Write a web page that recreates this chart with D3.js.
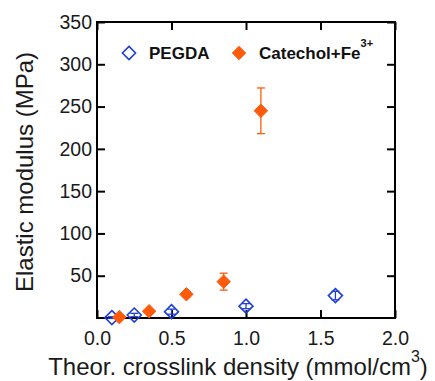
<!DOCTYPE html>
<html>
<head>
<meta charset="utf-8">
<script src="https://cdn.jsdelivr.net/npm/d3@7"></script>
<style>
  html, body { margin: 0; padding: 0; background: #fff; }
  svg { display: block; font-family: Arial, "Liberation Sans", sans-serif; }
</style>
</head>
<body>
<div id="chart"></div>
<script>
// ─── Data ───────────────────────────────────────────────────
const pegdaX = [0.1, 0.25, 0.5, 1.0, 1.6];
const pegdaY = [0.5, 3.5, 7.5, 14, 26.5];
const pegdaErr = [1, 2, 3, 3, 5];

const catX = [0.15, 0.35, 0.6, 0.85, 1.1];
const catY = [1, 8, 28, 43, 245];
const catErr = [1, 2, 3, 10, 27];

const xTicks = [0.0, 0.5, 1.0, 1.5, 2.0];
const yTicks = [50, 100, 150, 200, 250, 300, 350];

// ─── Layout ─────────────────────────────────────────────────
const W = 435, H = 381;
const margin = { top: 22, right: 40, bottom: 63, left: 97 };
const innerW = W - margin.left - margin.right;
const innerH = H - margin.top - margin.bottom;

const blue = "#1f3fd6";
const orange = "#ff5a0a";

const svg = d3.select("#chart").append("svg")
  .attr("width", W).attr("height", H);

const g = svg.append("g")
  .attr("transform", `translate(${margin.left},${margin.top})`);

const x = d3.scaleLinear().domain([0, 2]).range([0, innerW]);
const y = d3.scaleLinear().domain([0, 350]).range([innerH, 0]);

// Axes (ticks inward)
const tickLen = 8;
const fmtX = d3.format(".1f");

const xAxis = g.append("g").attr("transform", `translate(0,${innerH})`)
  .call(d3.axisBottom(x).tickValues(xTicks).tickSize(-tickLen).tickPadding(13).tickFormat(fmtX));
const yAxis = g.append("g")
  .call(d3.axisLeft(y).tickValues(yTicks).tickSize(-tickLen).tickPadding(5));
const xTop = g.append("g")
  .call(d3.axisTop(x).tickValues(xTicks).tickSize(-tickLen).tickFormat(""));
const yRight = g.append("g").attr("transform", `translate(${innerW},0)`)
  .call(d3.axisRight(y).tickValues(yTicks).tickSize(-tickLen).tickFormat(""));

[xAxis, yAxis, xTop, yRight].forEach(a => {
  a.select(".domain").remove();
  a.selectAll(".tick line").attr("stroke", "#000").attr("stroke-width", 2);
  a.selectAll(".tick text").attr("font-size", 19.5).attr("fill", "#1a1a1a")
    .attr("font-family", "Arial, 'Liberation Sans', sans-serif");
});

// Frame
g.append("rect")
  .attr("width", innerW).attr("height", innerH)
  .attr("fill", "none").attr("stroke", "#000").attr("stroke-width", 2);

// Error bars + markers
const diamond = d3.symbol().type(d3.symbolDiamond2);

function drawSeries(xs, ys, errs, color, filled, size) {
  const data = xs.map((v, i) => ({ x: v, y: ys[i], e: errs[i] }));
  const eb = g.append("g");
  data.forEach(d => {
    const px = x(d.x), y0 = y(d.y - d.e), y1 = y(d.y + d.e);
    eb.append("line").attr("x1", px).attr("x2", px).attr("y1", y0).attr("y2", y1)
      .attr("stroke", color).attr("stroke-width", 1.3);
    [y0, y1].forEach(yy => eb.append("line")
      .attr("x1", px - 4).attr("x2", px + 4).attr("y1", yy).attr("y2", yy)
      .attr("stroke", color).attr("stroke-width", 1.3));
  });
  g.append("g").selectAll("path").data(data).join("path")
    .attr("transform", d => `translate(${x(d.x)},${y(d.y)})`)
    .attr("d", diamond.size(size))
    .attr("fill", filled ? color : "none")
    .attr("stroke", color).attr("stroke-width", filled ? 1 : 1.6);
}

drawSeries(pegdaX, pegdaY, pegdaErr, blue, false, 125);
drawSeries(catX, catY, catErr, orange, true, 115);

// Legend
const leg = svg.append("g").attr("font-weight", "bold").attr("font-size", 17).attr("fill", "#111");
leg.append("path").attr("transform", "translate(129,53)")
  .attr("d", diamond.size(110)).attr("fill", "none").attr("stroke", blue).attr("stroke-width", 1.6);
leg.append("text").attr("x", 149).attr("y", 59).text("PEGDA");
leg.append("path").attr("transform", "translate(239,53)")
  .attr("d", diamond.size(115)).attr("fill", orange).attr("stroke", orange);
const lt = leg.append("text").attr("x", 259).attr("y", 59).text("Catechol+Fe");
lt.append("tspan").attr("dy", -12).attr("font-size", 11).text("3+");

// Axis titles
svg.append("text")
  .attr("transform", `translate(33,${margin.top + innerH / 2 + 2}) rotate(-90)`)
  .attr("text-anchor", "middle").attr("font-size", 24).attr("fill", "#1a1a1a")
  .text("Elastic modulus (MPa)");

const xt = svg.append("text")
  .attr("x", 238).attr("y", 375)
  .attr("text-anchor", "middle").attr("font-size", 24).attr("fill", "#1a1a1a")
  .text("Theor. crosslink density (mmol/cm");
xt.append("tspan").attr("dy", -13).attr("font-size", 16).text("3");
xt.append("tspan").attr("dy", 13).text(")");
</script>
</body>
</html>
